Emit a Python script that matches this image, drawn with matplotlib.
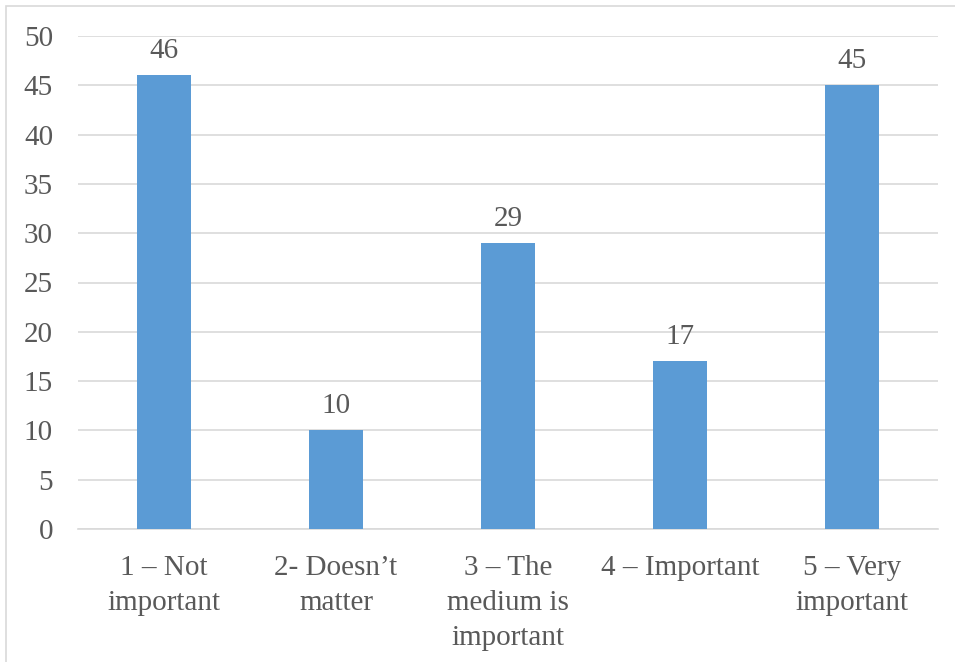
import matplotlib.pyplot as plt
from matplotlib.patches import Rectangle

categories = ['1 – Not\nimportant', '2- Doesn’t\nmatter', '3 – The\nmedium is\nimportant',
              '4 – Important', '5 – Very\nimportant']
values = [46, 10, 29, 17, 45]
y_ticks = [0, 5, 10, 15, 20, 25, 30, 35, 40, 45, 50]

plt.rcParams['font.family'] = ['Liberation Serif', 'DejaVu Serif']
text_color = '#595959'
bar_color = '#5B9BD5'
grid_color = '#D9D9D9'
fs = 21

fig = plt.figure(figsize=(9.55, 6.62), dpi=100)
ax = fig.add_axes([78 / 955, 1 - 529 / 662, (938 - 78) / 955, (529 - 36) / 662])

# outer chart frame
fig.patches.append(Rectangle((6 / 955, -0.1), 1.2, 1 - 6 / 662 + 0.1, transform=fig.transFigure,
                             fill=False, edgecolor=grid_color, linewidth=1.2))

x = range(len(values))
bars = ax.bar(x, values, width=0.315, color=bar_color, zorder=3)
for b, v in zip(bars, values):
    ax.annotate(str(v), (b.get_x() + b.get_width() / 2, v), xytext=(0, 8),
                textcoords='offset points', ha='center', va='bottom',
                fontsize=fs, color=text_color)

ax.set_xlim(-0.5, len(values) - 0.5)
ax.set_ylim(0, 50)
ax.set_yticks(y_ticks)
ax.set_xticks(list(x))
ax.set_xticklabels(categories, linespacing=1.45)
ax.tick_params(axis='y', length=0, pad=18, labelsize=fs, labelcolor=text_color)
ax.tick_params(axis='x', length=0, pad=18.5, labelsize=fs, labelcolor=text_color)

ax.grid(axis='y', color=grid_color, linewidth=1.2, zorder=0)
for side in ['top', 'right', 'left']:
    ax.spines[side].set_visible(False)
ax.spines['bottom'].set_color(grid_color)
ax.spines['bottom'].set_linewidth(1.2)

fig.savefig('out.png', dpi=100)
